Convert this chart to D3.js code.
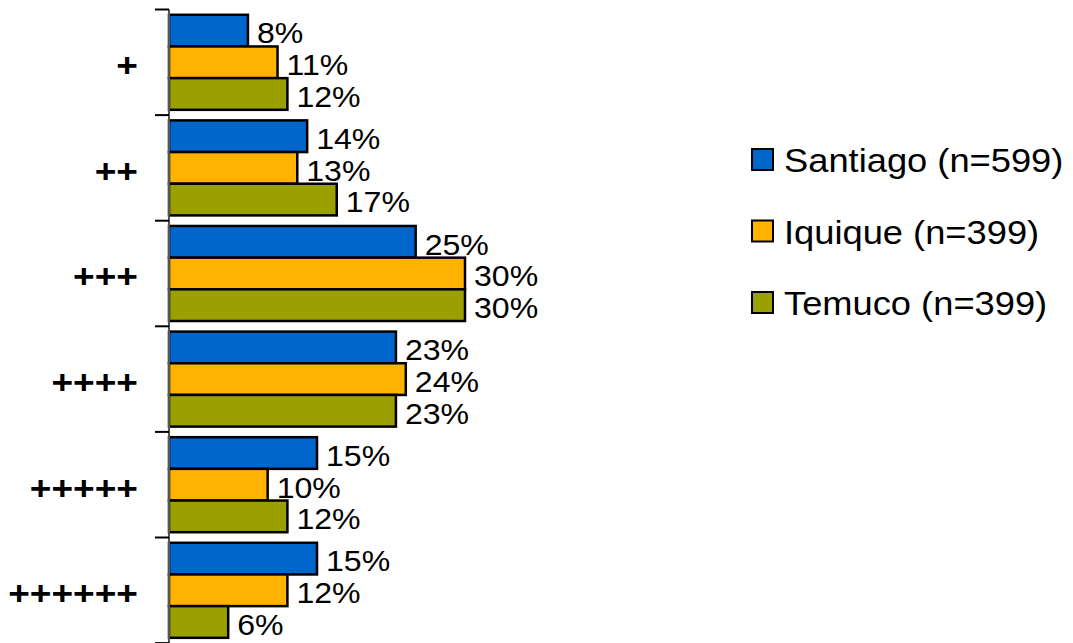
<!DOCTYPE html>
<html><head><meta charset="utf-8">
<script src="https://cdn.jsdelivr.net/npm/d3@7"></script>
<style>body{margin:0;background:#fff}svg{display:block}</style>
</head><body>
<svg id="c" width="1073" height="643"></svg>
<script>
const categories = ["+", "++", "+++", "++++", "+++++", "++++++"];
const seriesNames = ["Santiago (n=599)", "Iquique (n=399)", "Temuco (n=399)"];
const santiago = [8, 14, 25, 23, 15, 15];
const iquique = [11, 13, 30, 24, 10, 12];
const temuco = [12, 17, 30, 23, 12, 6];
const colors = ["#0066CC", "#FFB300", "#99A000"];

const series = [santiago, iquique, temuco];
const svg = d3.select("#c");
const FONT = "Liberation Sans, Arial, sans-serif";
const x0 = 169, plotTop = 9.5, bandH = 105.6;
const y = d3.scaleBand().domain(categories).range([plotTop, plotTop + bandH * categories.length]).paddingInner(0.1).paddingOuter(0.05);
const yInner = d3.scaleBand().domain(d3.range(3)).range([0, y.bandwidth()]);
const x = d3.scaleLinear().domain([0, 30]).range([x0, x0 + 296]);
const yTick = d3.scaleLinear().domain([0, categories.length]).range([plotTop, plotTop + bandH * categories.length]);

function stretchedText(parent, tx, ty, sx, str) {
  return parent.append("text").attr("transform", `translate(${tx},${ty}) scale(${sx},1)`).attr("font-family", FONT).text(str);
}

// bars
categories.forEach((c, i) => {
  const g = svg.append("g").attr("transform", `translate(0,${y(c)})`);
  series.forEach((s, k) => {
    g.append("rect").attr("x", x(0)).attr("y", yInner(k)).attr("width", x(s[i]) - x(0)).attr("height", yInner.bandwidth())
      .attr("fill", colors[k]).attr("stroke", "#000").attr("stroke-width", 2.5);
  });
  series.forEach((s, k) => {
    stretchedText(g, x(s[i]) + 9, yInner(k) + yInner.bandwidth() - 3, 1.07, s[i] + "%")
      .attr("font-size", 30).attr("fill", "#000");
  });
});

// axis
const axis = svg.append("g");
axis.append("line").attr("x1", x0).attr("x2", x0).attr("y1", plotTop).attr("y2", 643).attr("stroke", "#555").attr("stroke-width", 2);
d3.range(categories.length + 1).forEach(i => {
  axis.append("line").attr("x1", x0 - 14).attr("x2", x0).attr("y1", yTick(i)).attr("y2", yTick(i)).attr("stroke", "#000").attr("stroke-width", 2);
});
categories.forEach(c => {
  stretchedText(axis, 138, y(c) + y.bandwidth() / 2 + 6, 1.09, c)
    .attr("text-anchor", "end").attr("dominant-baseline", "middle").attr("font-weight", "bold").attr("font-size", 34);
});

// legend
seriesNames.forEach((n, k) => {
  const cy = 160 + k * 71.5;
  svg.append("rect").attr("x", 752).attr("y", cy - 11).attr("width", 21).attr("height", 21).attr("fill", colors[k]).attr("stroke", "#000").attr("stroke-width", 2);
  stretchedText(svg, 784, cy + 12, 1.1, n).attr("font-size", 33);
});
</script>
</body></html>
